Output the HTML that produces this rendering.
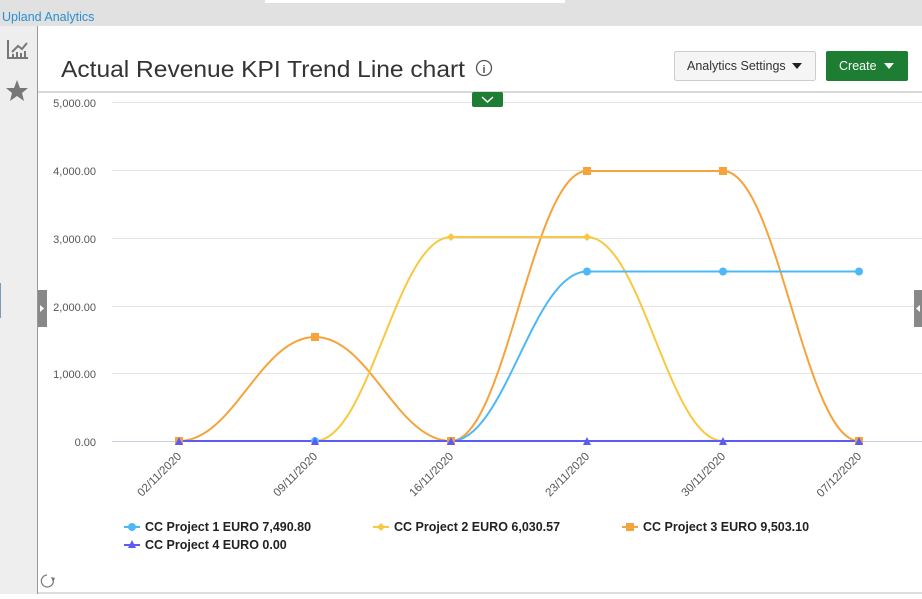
<!DOCTYPE html>
<html><head><meta charset="utf-8"><style>
body{margin:0;width:922px;height:594px;overflow:hidden;background:#fff;font-family:"Liberation Sans",sans-serif;}
</style></head><body>
<svg width="922" height="594" xmlns="http://www.w3.org/2000/svg" font-family="Liberation Sans, sans-serif">
<rect x="0" y="0" width="922" height="26" fill="#e1e1e1"/>
<rect x="265" y="0" width="300" height="3" fill="#fff"/>
<text x="2" y="21" font-size="12.5" fill="#2a8fd0">Upland Analytics</text>
<rect x="0" y="26" width="37" height="568" fill="#eeeeee"/>
<line x1="37.5" y1="26" x2="37.5" y2="594" stroke="#999"/>
<line x1="0.5" y1="283" x2="0.5" y2="318" stroke="#7a9ab8"/>
<g stroke="#777" fill="none" stroke-width="2">
<path d="M8 40 V58 H28"/>
<path d="M12 52 L18 46 L22 49 L27 43"/>
</g>
<g fill="#777"><rect x="12" y="54" width="2" height="3"/><rect x="16" y="52" width="2" height="5"/><rect x="20" y="53" width="2" height="4"/><rect x="24" y="51" width="2" height="6"/></g>
<polygon points="17,80 20,88 28,88 22,93 24,101 17,96 10,101 12,93 6,88 14,88" fill="#777"/>
<text x="61" y="77" font-size="23" fill="#333" textLength="404" lengthAdjust="spacingAndGlyphs">Actual Revenue KPI Trend Line chart</text>
<circle cx="484" cy="68" r="7.5" fill="none" stroke="#555" stroke-width="1.3"/>
<text x="484" y="73" font-size="11" fill="#555" text-anchor="middle" font-weight="bold">i</text>
<rect x="674.5" y="51.5" width="141" height="29" rx="2" fill="#f5f5f5" stroke="#ccc"/>
<text x="687" y="70" font-size="12.5" fill="#333">Analytics Settings</text>
<polygon points="792,63 802,63 797,69" fill="#222"/>
<rect x="826" y="51" width="82" height="30" rx="2" fill="#1d7d33"/>
<text x="839" y="70" font-size="12.5" fill="#fff">Create</text>
<polygon points="884,63 894,63 889,69" fill="#fff"/>
<line x1="38" y1="92" x2="922" y2="92" stroke="#ccc" stroke-width="1.5"/>
<g stroke="#e4e4e4"><line x1="112" y1="102.5" x2="922" y2="102.5"/><line x1="112" y1="170.5" x2="922" y2="170.5"/><line x1="112" y1="238.5" x2="922" y2="238.5"/><line x1="112" y1="306.5" x2="922" y2="306.5"/><line x1="112" y1="373.5" x2="922" y2="373.5"/></g>
<line x1="112" y1="441.5" x2="922" y2="441.5" stroke="#c8d0e0"/>
<g font-size="11" fill="#555" text-anchor="end">
<text x="96" y="107">5,000.00</text><text x="96" y="175">4,000.00</text><text x="96" y="243">3,000.00</text><text x="96" y="311">2,000.00</text><text x="96" y="378">1,000.00</text><text x="96" y="446">0.00</text></g>
<rect x="472" y="92" width="31" height="15" rx="2" fill="#1d7d33"/>
<path d="M482 97 L487.5 102 L493 97" stroke="#fff" stroke-width="1.5" fill="none"/>
<rect x="38" y="290" width="9" height="37" fill="#888"/><polygon points="40,305 44,308.5 40,312" fill="#fff"/>
<rect x="914" y="290" width="8" height="37" fill="#888"/><polygon points="920,305 916,308.5 920,312" fill="#fff"/>
<g fill="none" stroke-width="2">
<path d="M179 441 C233.4 441 260.6 337 315 337 C369.4 337 396.6 441 451 441 C505.4 441 532.6 171 587 171 L723 171 C777.4 171 804.6 441 859 441" stroke="#f7a33c"/>
<path d="M179 441 L315 441 C369.4 441 396.6 237 451 237 L587 237 C641.4 237 668.6 441 723 441 L859 441" stroke="#f9c841"/>
<path d="M179 441 L451 441 C505.4 441 532.6 271.5 587 271.5 L859 271.5" stroke="#4db8f7"/>
<path d="M179 441 L859 441" stroke="#5c5cf5"/>
</g>
<g fill="#f7a33c"><rect x="175" y="437" width="8" height="8"/><rect x="311" y="333" width="8" height="8"/><rect x="447" y="437" width="8" height="8"/><rect x="583" y="167" width="8" height="8"/><rect x="719" y="167" width="8" height="8"/><rect x="855" y="437" width="8" height="8"/></g>
<g fill="#f9c841"><polygon points="451,233 455,237 451,241 447,237"/><polygon points="587,233 591,237 587,241 583,237"/></g>
<g fill="#4db8f7"><circle cx="315" cy="441" r="4"/><circle cx="587" cy="271.5" r="4"/><circle cx="723" cy="271.5" r="4"/><circle cx="859" cy="271.5" r="4"/></g>
<g fill="#5c5cf5"><polygon points="179,437 183,445 175,445"/><polygon points="315,437 319,445 311,445"/><polygon points="451,437 455,445 447,445"/><polygon points="587,437 591,445 583,445"/><polygon points="723,437 727,445 719,445"/><polygon points="859,437 863,445 855,445"/></g>
<g font-size="11.5" fill="#555" text-anchor="end">
<text transform="translate(182,457) rotate(-45)">02/11/2020</text>
<text transform="translate(318,457) rotate(-45)">09/11/2020</text>
<text transform="translate(454,457) rotate(-45)">16/11/2020</text>
<text transform="translate(590,457) rotate(-45)">23/11/2020</text>
<text transform="translate(726,457) rotate(-45)">30/11/2020</text>
<text transform="translate(862,457) rotate(-45)">07/12/2020</text>
</g>
<g font-size="12.5" font-weight="bold" fill="#222">
<line x1="124" y1="527" x2="140" y2="527" stroke="#4db8f7" stroke-width="2"/><circle cx="132" cy="527" r="4" fill="#4db8f7"/>
<text x="145" y="531">CC Project 1 EURO 7,490.80</text>
<line x1="373" y1="527" x2="389" y2="527" stroke="#f9c841" stroke-width="2"/><polygon points="381,523 385,527 381,531 377,527" fill="#f9c841"/>
<text x="394" y="531">CC Project 2 EURO 6,030.57</text>
<line x1="622" y1="527" x2="638" y2="527" stroke="#f7a33c" stroke-width="2"/><rect x="626" y="523" width="8" height="8" fill="#f7a33c"/>
<text x="643" y="531">CC Project 3 EURO 9,503.10</text>
<line x1="124" y1="545" x2="140" y2="545" stroke="#5c5cf5" stroke-width="2"/><polygon points="132,540 136,548 128,548" fill="#5c5cf5"/>
<text x="145" y="549">CC Project 4 EURO 0.00</text>
</g>
<path d="M53 579 A6 6 0 1 1 47 575" fill="none" stroke="#777" stroke-width="1.2"/>
<polygon points="51,577 55,578 53,582" fill="#777"/>
<line x1="38" y1="593" x2="922" y2="593" stroke="#ddd" stroke-width="2"/>
</svg>
</body></html>
